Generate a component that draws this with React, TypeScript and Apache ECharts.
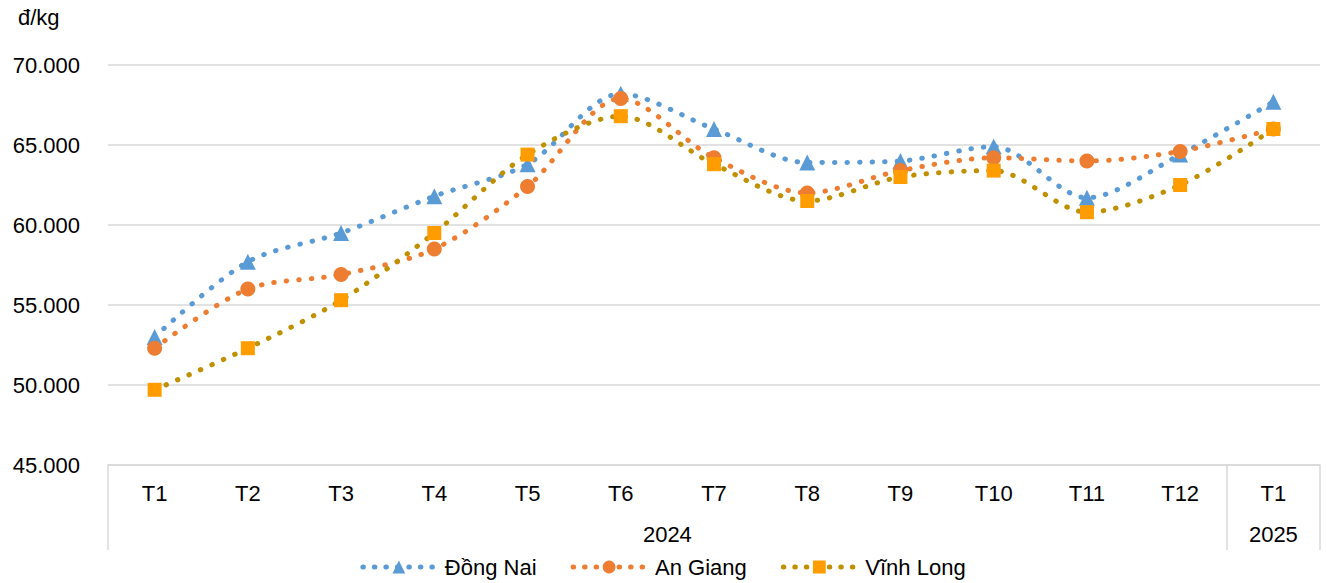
import React, { useEffect, useRef } from "react";
import * as echarts from "echarts";

const categories = ["T1", "T2", "T3", "T4", "T5", "T6", "T7", "T8", "T9", "T10", "T11", "T12", "T1"];
const yearLabels = ["2024", "2025"];
const dongNai = [53000, 57700, 59500, 61800, 63800, 68200, 66000, 63900, 64000, 64900, 61700, 64400, 67700];
const anGiang = [52300, 56000, 56900, 58500, 62400, 67900, 64200, 62000, 63400, 64200, 64000, 64600, 66000];
const vinhLong = [49700, 52300, 55300, 59500, 64400, 66800, 63800, 61500, 63000, 63400, 60800, 62500, 66000];
const seriesNames = ["Đồng Nai", "An Giang", "Vĩnh Long"];

const FONT = "'Liberation Sans', Arial, sans-serif";
const FS = 22;

export default function App() {
  const ref = useRef<HTMLDivElement>(null);
  useEffect(() => {
    if (!ref.current) return;
    const chart = echarts.init(ref.current, undefined, { renderer: "svg" });
    const fmt = (v: number) => {
      const th = Math.floor(v / 1000);
      const rest = String(v % 1000).padStart(3, "0");
      return `${th}.${rest}`;
    };
    const dotted = (color: string) => ({
      color,
      width: 5,
      type: [0.5, 12] as number[],
      cap: "round" as const,
    });
    chart.setOption({
      animation: false,
      textStyle: { fontFamily: FONT },
      grid: { left: 108, right: 6, top: 65, bottom: 118, containLabel: false },
      graphic: [
        { type: "text", left: 18, top: 6, style: { text: "đ/kg", font: `${FS}px ${FONT}`, fill: "#000" } },
      ],
      legend: {
        top: 556,
        left: "center",
        itemWidth: 72,
        itemHeight: 16,
        itemGap: 34,
        padding: 0,
        lineStyle: { width: 5, cap: "round", type: [0.5, 11] },
        textStyle: { fontSize: FS, color: "#000", fontFamily: FONT, padding: [0, 0, 0, 5] },
        data: seriesNames,
      },
      xAxis: [
        {
          type: "category",
          data: categories,
          boundaryGap: true,
          axisLine: { show: true, lineStyle: { color: "#d9d9d9", width: 1.5 } },
          axisTick: { show: false },
          axisLabel: { color: "#000", fontSize: FS, margin: 17, fontFamily: FONT },
        },
        {
          type: "value",
          position: "bottom",
          min: 0,
          max: 13,
          splitLine: { show: false },
          axisLine: { show: false },
          axisTick: { show: true, length: 85, customValues: [0, 12, 13], lineStyle: { color: "#d9d9d9", width: 1.5 } },
          axisLabel: {
            show: true,
            customValues: [6, 12.5],
            formatter: (v: number) => (v < 12 ? yearLabels[0] : yearLabels[1]),
            color: "#000",
            fontSize: FS,
            margin: 58,
            fontFamily: FONT,
          },
        },
      ],
      yAxis: {
        type: "value",
        min: 45000,
        max: 70000,
        interval: 5000,
        axisLine: { show: false },
        axisTick: { show: false },
        splitLine: { lineStyle: { color: "#d9d9d9", width: 1.5 } },
        axisLabel: { color: "#000", fontSize: FS, margin: 28, formatter: fmt, fontFamily: FONT },
      },
      series: [
        {
          name: seriesNames[0],
          type: "line",
          data: dongNai,
          smooth: 0.3,
          symbol: "triangle",
          symbolSize: 16,
          itemStyle: { color: "#5B9BD5" },
          lineStyle: dotted("#5B9BD5"),
          z: 3,
        },
        {
          name: seriesNames[1],
          type: "line",
          data: anGiang,
          smooth: 0.3,
          symbol: "circle",
          symbolSize: 15,
          itemStyle: { color: "#ED7D31" },
          lineStyle: dotted("#ED7D31"),
          z: 4,
        },
        {
          name: seriesNames[2],
          type: "line",
          data: vinhLong,
          smooth: 0.3,
          symbol: "rect",
          symbolSize: 14,
          itemStyle: { color: "#FF9C00" },
          lineStyle: dotted("#BF9000"),
          z: 5,
        },
      ],
    });
    return () => chart.dispose();
  }, []);
  return (
    <div
      ref={ref}
      style={{ position: "absolute", left: 0, top: 0, width: 1326, height: 583 }}
    />
  );
}
